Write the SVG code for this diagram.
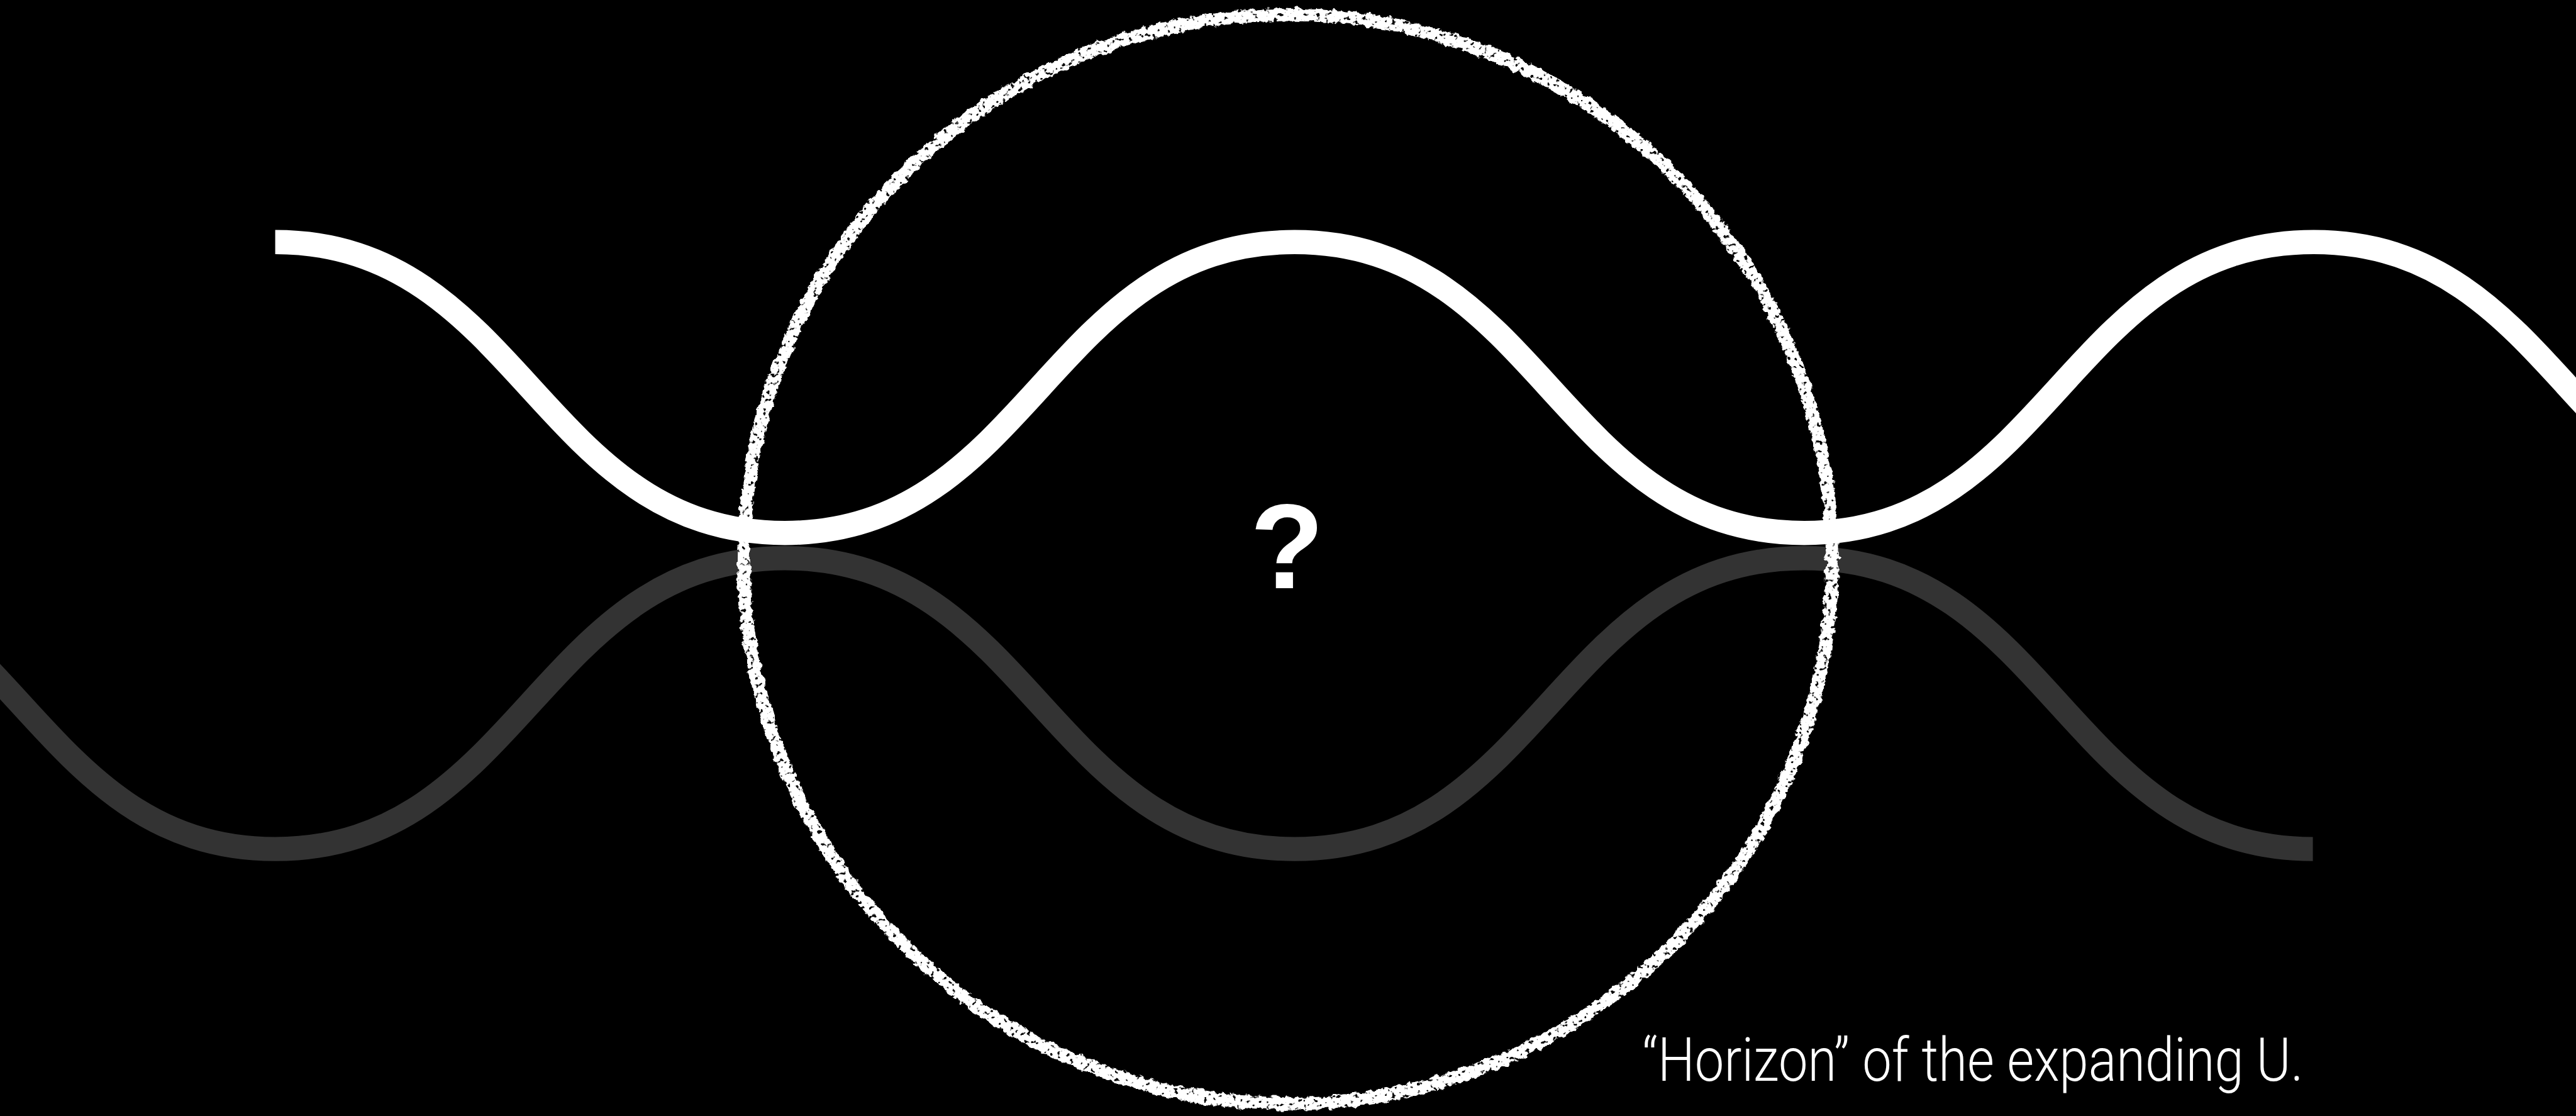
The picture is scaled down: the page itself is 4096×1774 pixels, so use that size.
<svg xmlns="http://www.w3.org/2000/svg" width="4096" height="1774" viewBox="0 0 4096 1774">
  <style>
    .wave { fill: none; stroke-width: 48; stroke-linecap: butt; }
    .white { stroke: #ffffff; }
    .gray { stroke: #333333; }
    .horizon { fill: none; stroke: #ffffff; stroke-width: 26; }
    .qmark { font-family: "Liberation Sans", Arial, sans-serif; font-weight: bold; font-size: 240px; fill: #ffffff; }
    .caption { font-family: Roboto, "Open Sans", sans-serif; font-weight: 300; font-size: 120px; fill: #ffffff; }
  </style>
  <defs>
    <filter id="chalk" filterUnits="userSpaceOnUse" x="1400" y="-60" width="2330" height="2340">
      <feTurbulence type="fractalNoise" baseFrequency="0.07" numOctaves="3" seed="4" result="n"/>
      <feDisplacementMap in="SourceGraphic" in2="n" scale="14" xChannelSelector="R" yChannelSelector="G" result="d"/>
      <feTurbulence type="fractalNoise" baseFrequency="0.12" numOctaves="2" seed="11" result="n2"/>
      <feColorMatrix in="n2" type="matrix" values="0 0 0 0 1  0 0 0 0 1  0 0 0 0 1  9 0 0 0 -2.4" result="holes"/>
      <feComposite in="d" in2="holes" operator="in"/>
    </filter>
  </defs>
  <rect x="0" y="0" width="4096" height="1774" fill="#000000"/>
  <g transform="scale(0.8)">
    <g id="connectors">
      <path id="wave-gray" class="wave gray" d="M-466,1109 C20,1109 61,1687 547,1687 C1033,1687 1074,1109 1560,1109 C2046,1109 2087,1687 2573,1687 C3059,1687 3100,1109 3586,1109 C4072,1109 4111,1687 4597,1687"/>
      <path id="wave-white" class="wave white" d="M547,481 C1033,481 1074,1059 1560,1059 C2046,1059 2087,481 2573,481 C3059,481 3100,1059 3586,1059 C4072,1059 4113,481 4599,481 C5085,481 5126,1059 5612,1059"/>
    </g>
    <g id="horizon-circle">
      <circle class="horizon" cx="2560" cy="1111" r="1082" filter="url(#chalk)"/>
    </g>
    <g id="question">
      <text class="qmark" x="2558" y="1169" text-anchor="middle">?</text>
    </g>
    <g id="caption">
      <text class="caption" x="3264" y="2147" textLength="1314" lengthAdjust="spacingAndGlyphs">“Horizon” of the expanding U.</text>
    </g>
  </g>
</svg>
